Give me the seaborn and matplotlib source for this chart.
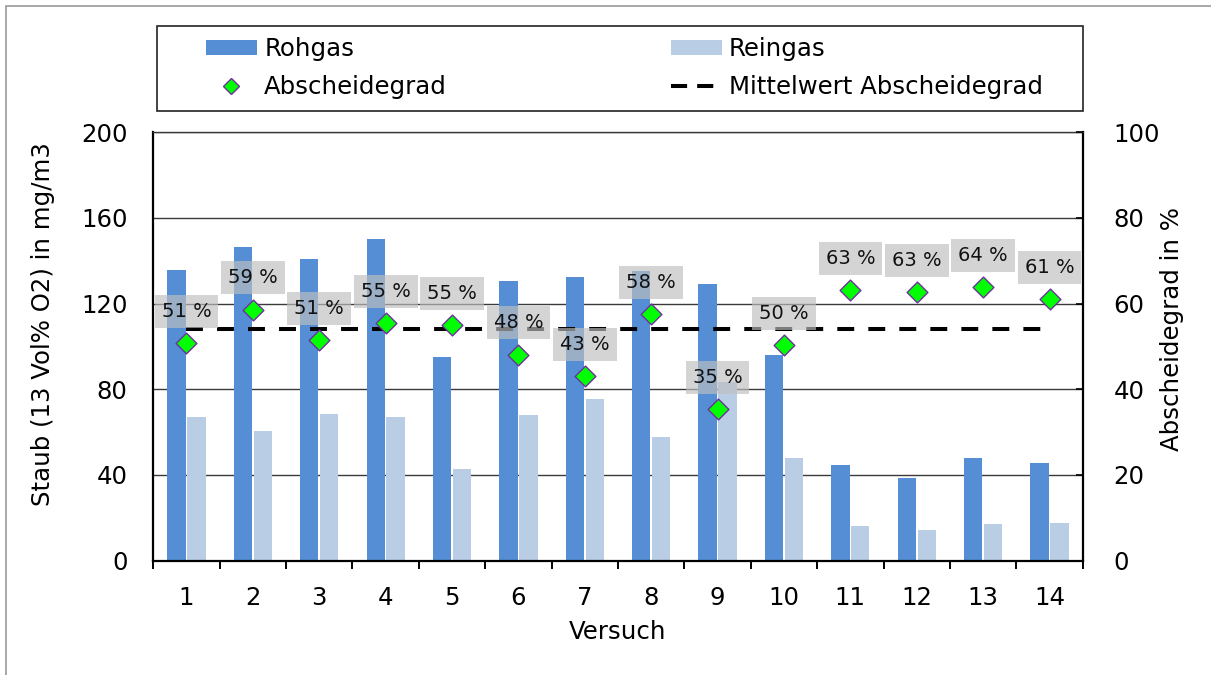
import numpy as np
import pandas as pd
import matplotlib
matplotlib.use("Agg")
import matplotlib.pyplot as plt
from matplotlib.patches import Rectangle, Patch
from matplotlib.lines import Line2D
import seaborn as sns

# ---- data ----
versuch = [str(i) for i in range(1, 15)]
rohgas = [135.5, 146.3, 141.0, 150.1, 95.1, 130.5, 132.5, 135.3, 129.1, 96.1, 44.4, 38.6, 47.7, 45.4]
reingas = [67.0, 60.6, 68.4, 67.0, 42.7, 67.9, 75.5, 57.5, 83.5, 47.7, 16.2, 14.4, 17.0, 17.5]
abscheidegrad = [50.7, 58.6, 51.4, 55.4, 55.0, 48.1, 43.0, 57.6, 35.3, 50.4, 63.2, 62.7, 63.9, 61.0]
series_names = ["Rohgas", "Reingas"]
left_ticks = [0, 40, 80, 120, 160, 200]
right_ticks = [0, 20, 40, 60, 80, 100]

c_roh = "#558ED5"
c_rein = "#B9CDE5"
c_green = "#00FF00"
c_edge = "#7030A0"

sns.set_theme(style="white")
plt.rcParams["font.family"] = ["DejaVu Sans"]
plt.rcParams["text.color"] = "black"
plt.rcParams["axes.labelcolor"] = "black"
plt.rcParams["xtick.color"] = "black"
plt.rcParams["ytick.color"] = "black"
FS = 17.6

df_bars = pd.DataFrame({
    "Versuch": versuch * 2,
    "Messung": [series_names[0]] * len(versuch) + [series_names[1]] * len(versuch),
    "Staub": rohgas + reingas,
})
df_ab = pd.DataFrame({"Versuch": versuch, "Abscheidegrad": abscheidegrad})
mean_ab = float(np.mean(abscheidegrad))
df_mean = pd.DataFrame({"Versuch": versuch, "Mittelwert": [mean_ab] * len(versuch)})

W, H = 1211, 675
fig = plt.figure(figsize=(W / 100, H / 100), dpi=100)
L, R, T, B = 153.3, 1082.7, 132.3, 560.5
ax = fig.add_axes([L / W, 1 - B / H, (R - L) / W, (B - T) / H])

sns.barplot(data=df_bars, x="Versuch", y="Staub", hue="Messung",
            palette=[c_roh, c_rein], width=0.6, gap=0.08, ax=ax,
            legend=False, saturation=1, edgecolor="none", zorder=2)
ax.set_axisbelow(True)
ax.set_ylim(0, 200)
ax.set_xlim(-0.5, len(versuch) - 0.5)
ax.set_yticks(left_ticks)
ax.yaxis.grid(True, color="#3a3a3a", linewidth=1.0)
ax.xaxis.grid(False)

for side in ["left", "bottom", "right"]:
    ax.spines[side].set_color("black")
    ax.spines[side].set_linewidth(1.6)
ax.spines["top"].set_color("#3a3a3a")
ax.spines["top"].set_linewidth(1.0)

ax.tick_params(axis="x", which="major", length=0, pad=18.4, labelsize=FS, labelcolor="black")
ax.set_xticks(np.arange(-0.5, len(versuch), 1.0), minor=True)
ax.tick_params(axis="x", which="minor", length=5.5, width=1.4, direction="out", color="black", bottom=True)
ax.tick_params(axis="y", which="major", length=0, pad=18.4, labelsize=FS, labelcolor="black", left=True)

ax.set_xlabel("Versuch", fontsize=FS, va="center", color="black")
ax.xaxis.set_label_coords(0.5, (B - 632) / (B - T))
ax.set_ylabel("Staub (13 Vol% O2) in mg/m3", fontsize=FS, va="center", color="black")
ax.yaxis.set_label_coords((43 - L) / (R - L), (B - 324) / (B - T))

# secondary axis
ax2 = ax.twinx()
ax2.set_ylim(0, 100)
ax2.set_yticks(right_ticks)
ax2.tick_params(axis="y", length=5, width=1.2, direction="in", pad=18.4 + 3.6, labelsize=FS,
                color="black", labelcolor="black")
for side in ["left", "bottom", "right", "top"]:
    ax2.spines[side].set_visible(False)
ax2.grid(False)

sns.lineplot(data=df_mean, x="Versuch", y="Mittelwert", ax=ax2, color="black",
             linewidth=2.9, sort=False, zorder=3, estimator=None)
ax2.lines[-1].set_dashes((4.2, 3.5))
ax2.lines[-1].set_dash_capstyle("butt")

sns.scatterplot(data=df_ab, x="Versuch", y="Abscheidegrad", ax=ax2, marker="D",
                s=112, color=c_green, edgecolor=c_edge, linewidth=1.0, zorder=5, legend=False)

for i, v in enumerate(abscheidegrad):
    ax2.annotate(f"{v:.0f} %", xy=(i, v), xytext=(0, 22.8), textcoords="offset points",
                 ha="center", va="center", fontsize=14.0, color="#111111", zorder=6,
                 bbox=dict(boxstyle="square,pad=0.36", fc="#BFBFBF", ec="none", alpha=0.66))

ax2.set_ylabel("Abscheidegrad in %", fontsize=FS, va="center", rotation=90, color="black")
ax2.yaxis.set_label_coords((1171.5 - L) / (R - L), (B - 329) / (B - T))
ax2.set_xlim(-0.5, len(versuch) - 0.5)

# legend frame and legend
fig.patches.append(Rectangle((157.3 / W, 1 - 111 / H), (1083.3 - 157.3) / W, (111 - 25.7) / H,
                             transform=fig.transFigure, fill=False, ec="#222222", lw=1.2))
handles = [
    Patch(facecolor=c_roh, edgecolor="none"),
    Line2D([], [], marker="D", linestyle="none", markersize=10.6, markerfacecolor=c_green,
           markeredgecolor=c_edge, markeredgewidth=1.0),
    Patch(facecolor=c_rein, edgecolor="none"),
    Line2D([], [], color="black", linewidth=2.9, dashes=(4.0, 2.5), dash_capstyle="butt"),
]
labels = ["Rohgas", "Abscheidegrad", "Reingas", "Mittelwert Abscheidegrad"]
fig.legend(handles, labels, ncol=2, loc="center left",
           bbox_to_anchor=(206 / W, 1 - 68 / H), frameon=False, fontsize=FS,
           borderpad=0, borderaxespad=0, handlelength=2.08, handleheight=0.59,
           handletextpad=0.3, columnspacing=9.15, labelspacing=0.55, markerscale=0.8,
           labelcolor="black")

# outer chart border
fig.patches.append(Rectangle((5.5 / W, -0.05), 1.1, (1 - 6 / H) + 0.05,
                             transform=fig.transFigure, fill=False, ec="#9a9a9a", lw=1.2))

fig.savefig("out.png", dpi=100)
